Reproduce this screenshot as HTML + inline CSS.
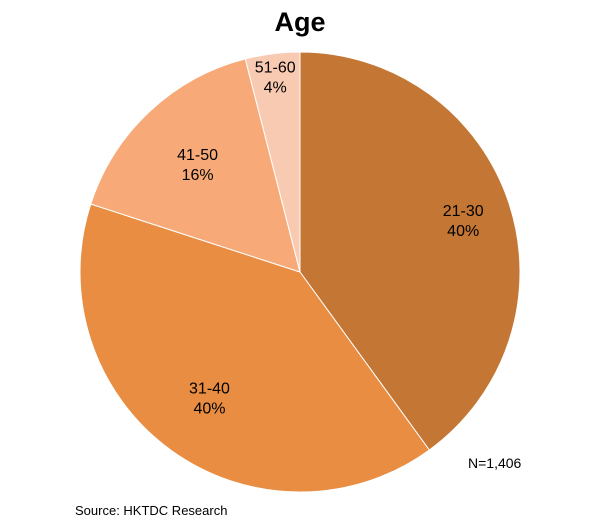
<!DOCTYPE html>
<html><head><meta charset="utf-8"><style>
body{margin:0;background:#fff;font-family:"Liberation Sans",Arial,sans-serif;}
svg{display:block}
</style></head><body>
<svg id="chart" width="611" height="527">
<text x="300" y="31" text-anchor="middle" font-size="27" font-weight="bold" fill="#000">Age</text>
<g id="slices"></g>
<g id="labels"></g>
<text x="468" y="468" font-size="14" fill="#000">N=1,406</text>
<text x="75" y="515" font-size="13" fill="#000">Source: HKTDC Research</text>
</svg>
<script>
const categories = ["21-30","31-40","41-50","51-60"];
const values = [40,40,16,4];
const colors = ["#C47634","#E88D42","#F7AA78","#F9CAB2"];
const cx=300, cy=272, r=220;
const ns="http://www.w3.org/2000/svg";
const total=values.reduce((a,b)=>a+b,0);
const sg=document.getElementById('slices'), lg=document.getElementById('labels');
function pt(a,rad){return [cx+rad*Math.sin(a), cy-rad*Math.cos(a)];}
const labelR=[0.78,0.7,0.68,0.9];
let start=0;
values.forEach((v,i)=>{
  const ang=v/total*2*Math.PI, end=start+ang;
  const [x1,y1]=pt(start,r),[x2,y2]=pt(end,r);
  const p=document.createElementNS(ns,'path');
  p.setAttribute('d',`M${cx},${cy}L${x1},${y1}A${r},${r} 0 ${ang>Math.PI?1:0} 1 ${x2},${y2}Z`);
  p.setAttribute('fill',colors[i]);
  p.setAttribute('stroke','#fff');
  p.setAttribute('stroke-width','1');
  
  
  sg.appendChild(p);
  const [lx,ly]=pt(start+ang/2,r*labelR[i]);
  const t=document.createElementNS(ns,'text');
  t.setAttribute('x',lx);t.setAttribute('y',ly-3);
  t.setAttribute('text-anchor','middle');t.setAttribute('font-size','16');
  
  
  const s1=document.createElementNS(ns,'tspan');s1.setAttribute('x',lx);s1.textContent=categories[i];
  const s2=document.createElementNS(ns,'tspan');s2.setAttribute('x',lx);s2.setAttribute('dy','20');s2.textContent=v+'%';
  t.appendChild(s1);t.appendChild(s2);lg.appendChild(t);
  start=end;
});
</script>
</body></html>
